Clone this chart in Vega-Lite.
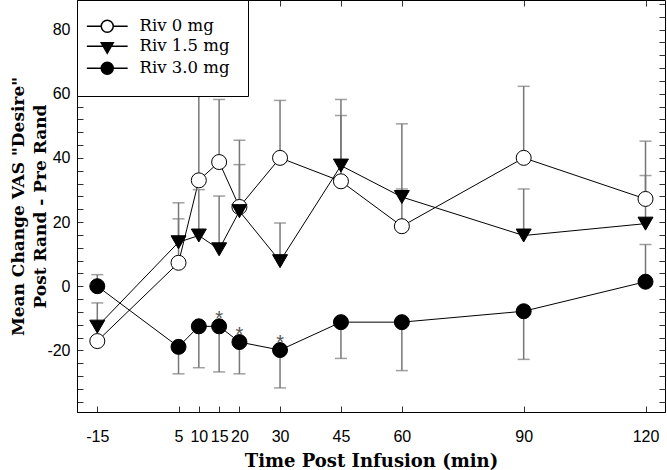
{
  "$schema": "https://vega.github.io/schema/vega-lite/v6.json",
  "width": 588,
  "height": 412,
  "autosize": {"type": "none"},
  "padding": {"left": 77, "top": 0, "right": 2, "bottom": 58},
  "background": "white",
  "config": {
    "view": {"stroke": "black", "strokeWidth": 1},
    "axis": {"grid": false, "domainColor": "black", "tickColor": "#333", "labelFont": "Liberation Sans", "labelFontSize": 16, "labelColor": "black", "titleColor": "black", "titleFont": "DejaVu Serif", "titleFontWeight": "bold", "titleFontSize": 18, "tickSize": -6}
  },
  "data": {"values": [
    {"dose": "Riv 0 mg", "t": -15, "mean": -17.1, "err": null},
    {"dose": "Riv 0 mg", "t": 5, "mean": 7.3, "err": 26.0},
    {"dose": "Riv 0 mg", "t": 10, "mean": 33.0, "err": 60.2},
    {"dose": "Riv 0 mg", "t": 15, "mean": 38.7, "err": 58.2},
    {"dose": "Riv 0 mg", "t": 20, "mean": 24.7, "err": 45.5},
    {"dose": "Riv 0 mg", "t": 30, "mean": 40.0, "err": 57.9},
    {"dose": "Riv 0 mg", "t": 45, "mean": 32.7, "err": 53.2},
    {"dose": "Riv 0 mg", "t": 60, "mean": 18.7, "err": 50.6},
    {"dose": "Riv 0 mg", "t": 90, "mean": 40.0, "err": 62.3},
    {"dose": "Riv 0 mg", "t": 120, "mean": 27.2, "err": 45.2},
    {"dose": "Riv 1.5 mg", "t": -15, "mean": -12.6, "err": -5.2},
    {"dose": "Riv 1.5 mg", "t": 5, "mean": 13.7, "err": 21.0},
    {"dose": "Riv 1.5 mg", "t": 10, "mean": 15.8, "err": 30.1},
    {"dose": "Riv 1.5 mg", "t": 15, "mean": 11.5, "err": 28.1},
    {"dose": "Riv 1.5 mg", "t": 20, "mean": 23.4, "err": 37.9},
    {"dose": "Riv 1.5 mg", "t": 30, "mean": 7.8, "err": 19.7},
    {"dose": "Riv 1.5 mg", "t": 45, "mean": 37.6, "err": 58.2},
    {"dose": "Riv 1.5 mg", "t": 60, "mean": 27.8, "err": 30.3},
    {"dose": "Riv 1.5 mg", "t": 90, "mean": 15.8, "err": 30.3},
    {"dose": "Riv 1.5 mg", "t": 120, "mean": 19.5, "err": 34.5},
    {"dose": "Riv 3.0 mg", "t": -15, "mean": 0.0, "err": 3.6},
    {"dose": "Riv 3.0 mg", "t": 5, "mean": -18.9, "err": -27.3},
    {"dose": "Riv 3.0 mg", "t": 10, "mean": -12.5, "err": -25.4},
    {"dose": "Riv 3.0 mg", "t": 15, "mean": -12.5, "err": -26.7, "sig": true},
    {"dose": "Riv 3.0 mg", "t": 20, "mean": -17.4, "err": -27.3, "sig": true},
    {"dose": "Riv 3.0 mg", "t": 30, "mean": -19.9, "err": -31.7, "sig": true},
    {"dose": "Riv 3.0 mg", "t": 45, "mean": -11.2, "err": -22.5},
    {"dose": "Riv 3.0 mg", "t": 60, "mean": -11.2, "err": -26.3},
    {"dose": "Riv 3.0 mg", "t": 90, "mean": -7.8, "err": -22.8},
    {"dose": "Riv 3.0 mg", "t": 120, "mean": 1.4, "err": 13.0}
  ]},
  "layer": [
    {
      "mark": {"type": "line", "color": "black", "strokeWidth": 1},
      "encoding": {
        "x": {"field": "t", "type": "quantitative", "scale": {"domain": [-20, 124.8], "nice": false, "zero": false},
          "axis": {"orient": "bottom", "values": [-15, 5, 10, 15, 20, 30, 45, 60, 90, 120], "labelExpr": "'' + datum.value", "labelPadding": 22, "title": "Time Post Infusion (min)", "titlePadding": 8}},
        "y": {"field": "mean", "type": "quantitative", "scale": {"domain": [-39.2, 89.2], "nice": false, "zero": false},
          "axis": {"orient": "left", "values": [-36, -32, -28, -24, -20, -16, -12, -8, -4, 0, 4, 8, 12, 16, 20, 24, 28, 32, 36, 40, 44, 48, 52, 56, 60, 64, 68, 72, 76, 80, 84, 88],
            "labelExpr": "datum.value % 20 === 0 ? '' + datum.value : ''", "labelPadding": 13, "title": ["Mean Change VAS \"Desire\"", "Post Rand - Pre Rand"], "titleFontSize": 17, "titleLineHeight": 22, "titlePadding": -3}},
        "detail": {"field": "dose"}
      }
    },
    {
      "transform": [{"filter": "datum.err != null"}],
      "mark": {"type": "rule", "color": "#777", "strokeWidth": 1.5},
      "encoding": {
        "x": {"field": "t", "type": "quantitative", "axis": {"orient": "top", "values": [-15, 5, 10, 15, 20, 30, 45, 60, 90, 120], "labels": false, "domain": false, "title": null}},
        "y": {"field": "mean", "type": "quantitative", "axis": {"orient": "right", "values": [-36, -32, -28, -24, -20, -16, -12, -8, -4, 0, 4, 8, 12, 16, 20, 24, 28, 32, 36, 40, 44, 48, 52, 56, 60, 64, 68, 72, 76, 80, 84, 88], "labels": false, "domain": false, "title": null}},
        "y2": {"field": "err"}
      }
    },
    {
      "transform": [{"filter": "datum.err != null"}],
      "mark": {"type": "tick", "orient": "horizontal", "color": "#777", "size": 12, "thickness": 1.5},
      "encoding": {
        "x": {"field": "t", "type": "quantitative", "axis": null},
        "y": {"field": "err", "type": "quantitative", "axis": null}
      }
    },
    {
      "mark": {"type": "point", "size": 225, "stroke": "black", "strokeWidth": 1, "opacity": 1, "filled": true},
      "encoding": {
        "x": {"field": "t", "type": "quantitative", "axis": null},
        "y": {"field": "mean", "type": "quantitative", "axis": null},
        "shape": {"field": "dose", "type": "nominal", "scale": {"domain": ["Riv 0 mg", "Riv 1.5 mg", "Riv 3.0 mg"], "range": ["circle", "triangle-down", "circle"]}, "legend": null},
        "fill": {"field": "dose", "type": "nominal", "scale": {"domain": ["Riv 0 mg", "Riv 1.5 mg", "Riv 3.0 mg"], "range": ["white", "black", "black"]}, "legend": null}
      }
    },
    {
      "transform": [{"filter": "datum.sig === true"}],
      "mark": {"type": "text", "text": "*", "color": "#555", "fontSize": 20, "font": "Liberation Sans", "baseline": "middle", "dy": -7},
      "encoding": {
        "x": {"field": "t", "type": "quantitative", "axis": null},
        "y": {"field": "mean", "type": "quantitative", "axis": null}
      }
    },
    {
      "transform": [{"filter": "false"}],
      "mark": {"type": "point", "size": 144, "stroke": "black", "strokeWidth": 1, "opacity": 1, "filled": true},
      "encoding": {
        "x": {"field": "t", "type": "quantitative", "axis": null},
        "y": {"field": "mean", "type": "quantitative", "axis": null},
        "shape": {"field": "dose", "type": "nominal", "scale": {"domain": ["Riv 0 mg", "Riv 1.5 mg", "Riv 3.0 mg"], "range": ["M-3.4,0L-1,0M1,0L3.4,0M1,0A1,1,0,1,1,-1,0A1,1,0,1,1,1,0Z", "M-3.4,0L3.4,0M-1,-0.6L1,-0.6L0,1.15Z", "M-3.4,0L-1,0M1,0L3.4,0M1,0A1,1,0,1,1,-1,0A1,1,0,1,1,1,0Z"]},
          "legend": {"orient": "none", "legendX": 0, "legendY": 0, "title": null, "padding": 18, "strokeColor": "black", "fillColor": "white", "symbolSize": 144, "labelFont": "DejaVu Serif", "labelFontSize": 16.5, "labelColor": "black", "rowPadding": 2, "symbolOffset": 4, "labelOffset": 24,
            "encode": {"symbols": {"update": {"stroke": {"value": "black"}, "strokeWidth": {"value": 1}, "opacity": {"value": 1}}}}}},
        "fill": {"field": "dose", "type": "nominal", "scale": {"domain": ["Riv 0 mg", "Riv 1.5 mg", "Riv 3.0 mg"], "range": ["white", "black", "black"]},
          "legend": {"orient": "none", "legendX": 0, "legendY": 0, "title": null, "padding": 18, "strokeColor": "black", "fillColor": "white", "symbolSize": 144, "labelFont": "DejaVu Serif", "labelFontSize": 16.5, "labelColor": "black", "rowPadding": 2, "symbolOffset": 4, "labelOffset": 24,
            "encode": {"symbols": {"update": {"stroke": {"value": "black"}, "strokeWidth": {"value": 1}, "opacity": {"value": 1}}}}}}
      }
    }
  ],
  "resolve": {"axis": {"x": "independent", "y": "independent"}, "scale": {"shape": "independent", "fill": "independent"}}
}
